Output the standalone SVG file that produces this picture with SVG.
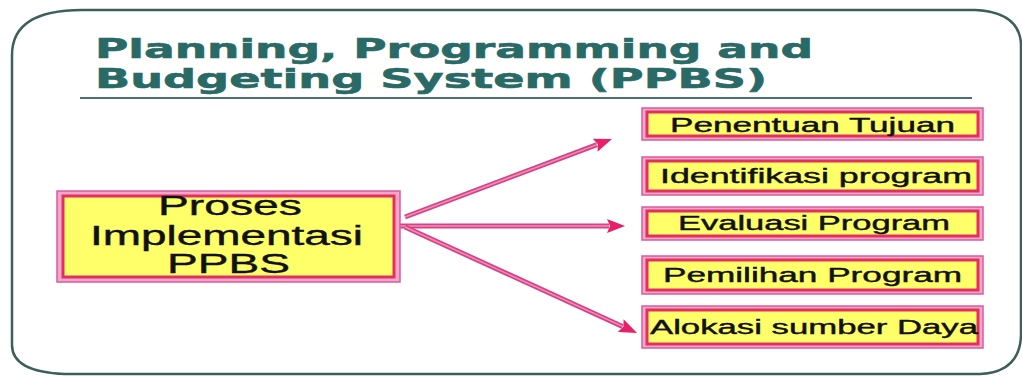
<svg xmlns="http://www.w3.org/2000/svg" width="1022" height="376" viewBox="0 0 1022 376">
<style>
.title{font-family:"DejaVu Sans","Liberation Sans",sans-serif;font-weight:bold;font-size:27px;fill:#2a6a66;stroke:#2a6a66;stroke-width:0.6}
.lbl{font-family:"Liberation Sans",Arial,sans-serif;font-size:20px;fill:#111;stroke:#111;stroke-width:0.4}
.main{font-family:"Liberation Sans",Arial,sans-serif;font-size:27px;fill:#111;stroke:#111;stroke-width:0.4}
.bo{fill:#f2a6cc;stroke:#d85c9c;stroke-width:1.5}
.bi{fill:#ffff6a;stroke:#e2305e;stroke-width:3}
.ln{fill:none;stroke:#d44484;stroke-width:5}
.li{fill:none;stroke:#f48cbc;stroke-width:1.5}
</style>
<defs>
<marker id="ah" viewBox="0 0 18 14" refX="2" refY="7" markerWidth="18" markerHeight="14" markerUnits="userSpaceOnUse" orient="auto">
<path d="M0,0 L18,7 L0,14 L3,7 z" fill="#e8206a"/>
</marker>
</defs>
<rect width="1022" height="376" fill="#ffffff"/>
<path d="M12,55 Q12,10 82,10 L975,10 Q1020,12 1021,45 L1021,335 Q1020,372 980,374 L65,374 Q12,372 12,345 Z" fill="none" stroke="#3d5f5a" stroke-width="2.5"/>
<g id="title">
<text class="title" x="95" y="58" textLength="718" lengthAdjust="spacingAndGlyphs">Planning, Programming and</text>
<text class="title" x="95" y="88" textLength="672" lengthAdjust="spacingAndGlyphs">Budgeting System (PPBS)</text>
<line x1="80" y1="98" x2="972" y2="98" stroke="#4a7070" stroke-width="2"/>
</g>
<g id="connectors">
<path class="ln" d="M405,217 L597,144.6" marker-end="url(#ah)"/>
<path class="li" d="M405,217 L597,144.6"/>
<path class="ln" d="M400,226 L609,226" marker-end="url(#ah)"/>
<path class="li" d="M400,226 L609,226"/>
<path class="ln" d="M405,227 L622.5,326.4" marker-end="url(#ah)"/>
<path class="li" d="M405,227 L622.5,326.4"/>
</g>
<g id="proses">
<rect class="bo" x="57" y="191" width="343" height="91"/>
<rect class="bi" x="63" y="196" width="331" height="81"/>
<text class="main" x="158" y="215" textLength="144" lengthAdjust="spacingAndGlyphs">Proses</text>
<text class="main" x="90" y="245" textLength="273" lengthAdjust="spacingAndGlyphs">Implementasi</text>
<text class="main" x="167" y="273" textLength="123" lengthAdjust="spacingAndGlyphs">PPBS</text>
</g>
<g id="penentuan">
<rect class="bo" x="642" y="108" width="341" height="32"/>
<rect class="bi" x="647" y="112" width="331" height="24"/>
<text class="lbl" x="670" y="132" textLength="285" lengthAdjust="spacingAndGlyphs">Penentuan Tujuan</text>
</g>
<g id="identifikasi">
<rect class="bo" x="642" y="157" width="341" height="38"/>
<rect class="bi" x="647" y="161" width="331" height="30"/>
<text class="lbl" x="660" y="183" textLength="312" lengthAdjust="spacingAndGlyphs">Identifikasi program</text>
</g>
<g id="evaluasi">
<rect class="bo" x="642" y="207" width="341" height="33"/>
<rect class="bi" x="647" y="211" width="331" height="25"/>
<text class="lbl" x="678" y="230" textLength="272" lengthAdjust="spacingAndGlyphs">Evaluasi Program</text>
</g>
<g id="pemilihan">
<rect class="bo" x="642" y="256" width="341" height="38"/>
<rect class="bi" x="647" y="260" width="331" height="30"/>
<text class="lbl" x="663" y="282" textLength="299" lengthAdjust="spacingAndGlyphs">Pemilihan Program</text>
</g>
<g id="alokasi">
<rect class="bo" x="642" y="306" width="341" height="42"/>
<rect class="bi" x="647" y="310" width="331" height="34"/>
<text class="lbl" x="650" y="334" textLength="328" lengthAdjust="spacingAndGlyphs">Alokasi sumber Daya</text>
</g>
</svg>
